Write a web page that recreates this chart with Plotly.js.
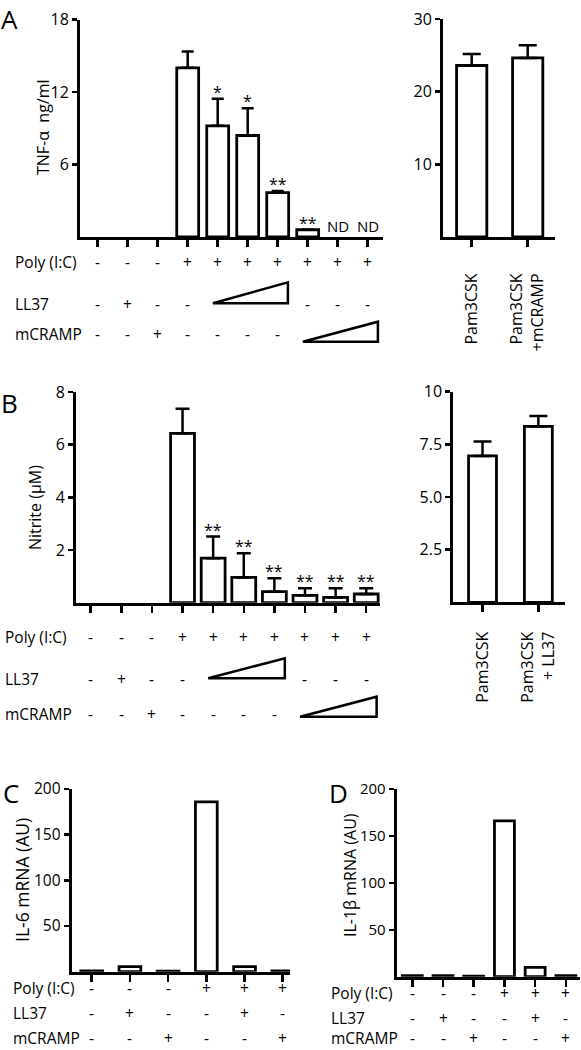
<!DOCTYPE html>
<html><head><meta charset="utf-8">
<script src="https://cdn.plot.ly/plotly-3.0.1.min.js"></script>
<style>html,body{margin:0;padding:0;background:#fff}</style>
</head><body><div id="chart" style="width:581px;height:1050px"></div>
<script>
// ---------- DATA ----------
// null = no bar drawn (untreated / not detected)
const tnfMean = [null, null, null, 14.0, 9.2, 8.4, 3.67, 0.6, null, null];
const tnfErr  = [0, 0, 0, 1.35, 2.25, 2.25, 0.13, 0, 0, 0];
const tnfSig  = ['', '', '', '', '*', '*', '**', '**', 'ND', 'ND'];

const pamTnfLabels = ['Pam3CSK', 'Pam3CSK<br>+mCRAMP'];
const pamTnfMean = [23.6, 24.65];
const pamTnfErr  = [1.6, 1.75];

const nitMean = [null, null, null, 6.43, 1.69, 0.96, 0.42, 0.28, 0.2, 0.33];
const nitErr  = [0, 0, 0, 0.93, 0.82, 0.92, 0.51, 0.27, 0.35, 0.22];
const nitSig  = ['', '', '', '', '**', '**', '**', '**', '**', '**'];

const pamNitLabels = ['Pam3CSK', 'Pam3CSK<br>+ LL37'];
const pamNitMean = [6.95, 8.35];
const pamNitErr  = [0.68, 0.5];

const il6  = [1, 5.5, 0.5, 186, 5.5, 1];
const il1b = [1, 1, 0.5, 166, 10, 1];

// treatment tables ('' = increasing dose ramp)
const polyAB   = ['-', '-', '-', '+', '+', '+', '+', '+', '+', '+'];
const ll37AB   = ['-', '+', '-', '-', '', '', '', '-', '-', '-'];
const mcrampAB = ['-', '-', '+', '-', '-', '-', '-', '', '', ''];
const polyCD   = ['-', '-', '-', '+', '+', '+'];
const ll37CD   = ['-', '+', '-', '-', '+', '-'];
const mcrampCD = ['-', '-', '+', '-', '-', '+'];
const rowNames = ['Poly (I:C)', 'LL37', 'mCRAMP'];

// ---------- HELPERS ----------
const W = 581, H = 1050;
const px = v => v / W, py = v => 1 - v / H;
const FONT = 'Open Sans, sans-serif';
const idx = a => a.map((_, i) => i);

function barTrace(y, err, xa, ya, width, capw) {
  const t = {
    type: 'bar', x: idx(y), y: y, xaxis: xa, yaxis: ya, width: width,
    marker: {color: '#fff', line: {color: '#000', width: 2.8}},
    hoverinfo: 'skip'
  };
  if (err) t.error_y = {type: 'data', symmetric: false, array: err, arrayminus: err.map(() => 0),
                        color: '#000', thickness: 2.5, width: capw};
  return t;
}
function xAx(l, r, r0, r1, n, anchor, ticktext, standoff) {
  const a = {domain: [px(l), px(r)], range: [r0, r1], anchor: anchor,
    tickvals: [...Array(n).keys()], ticks: 'outside', ticklen: 7, tickwidth: 2.5, tickcolor: '#000',
    showline: true, linewidth: 3, linecolor: '#000', showgrid: false, zeroline: false, fixedrange: true,
    showticklabels: false};
  if (ticktext) {
    a.showticklabels = true; a.ticktext = ticktext; a.tickangle = -90;
    a.tickfont = {family: FONT, size: 16, color: '#000'};
    a.ticklabelstandoff = standoff;
  }
  return a;
}
function yAx(top, bottom, range, tickvals, ticktext, anchor, fs, standoff) {
  return {domain: [py(bottom), py(top)], range: range, anchor: anchor,
    tickvals: tickvals, ticktext: ticktext, ticks: 'outside', ticklen: 5, tickwidth: 2.5, tickcolor: '#000',
    showline: true, linewidth: 3, linecolor: '#000', showgrid: false, zeroline: false, fixedrange: true,
    ticklabelstandoff: standoff || 0,
    tickfont: {family: FONT, size: fs, color: '#000'}};
}

const annotations = [];
const shapes = [];
function txt(x, y, text, size, opts) {
  annotations.push(Object.assign({x: x, y: y, xref: 'paper', yref: 'paper', text: text, showarrow: false,
    borderpad: 0, font: {family: FONT, size: size, color: '#000'}, xanchor: 'left', yanchor: 'middle'}, opts || {}));
}
// place a row of text; keep boxes inside the page at the bottom edge
function rowPos(yc, size) {
  const half = size * 0.68;
  if (yc + half > H - 0.5) return {y: py(H - 0.5), yanchor: 'bottom'};
  return {y: py(yc), yanchor: 'middle'};
}
function table(rows, xref, rowY, labelX, size, ramps) {
  rows.forEach((row, r) => {
    const p = rowPos(rowY[r], size);
    txt(px(labelX), p.y, rowNames[r], size, {yanchor: p.yanchor});
    row.forEach((s, i) => {
      if (s !== '') annotations.push({x: i, y: p.y, xref: xref, yref: 'paper', text: s, showarrow: false,
        borderpad: 0, font: {family: FONT, size: size, color: '#000'}, xanchor: 'center', yanchor: p.yanchor});
    });
    const first = row.indexOf(''), last = row.lastIndexOf('');
    if (first >= 0 && ramps) {
      const [yb, yt] = ramps[r];
      const x0 = first - 0.16, x1 = last + 0.34;
      shapes.push({type: 'path', xref: xref, yref: 'paper',
        path: `M ${x0},${py(yb)} L ${x1},${py(yb)} L ${x1},${py(yt)} Z`,
        line: {color: '#000', width: 2.5}, fillcolor: 'rgba(0,0,0,0)'});
    }
  });
}
function sig(labels, mean, err, xref, yref, size, shift) {
  labels.forEach((s, i) => {
    if (!s) return;
    const top = (mean[i] || 0) + err[i];
    annotations.push({x: i, y: top, xref: xref, yref: yref, text: s, showarrow: false, borderpad: 0,
      font: {family: FONT, size: s === 'ND' ? 15 : size, color: '#000'}, xanchor: 'center', yanchor: 'bottom',
      yshift: s === 'ND' ? 0 : shift});
  });
}

// ---------- TRACES ----------
const data = [
  barTrace(tnfMean, tnfErr, 'x', 'y', 0.73, 6),
  barTrace(pamTnfMean, pamTnfErr, 'x2', 'y2', 0.54, 9),
  barTrace(nitMean, nitErr, 'x3', 'y3', 0.78, 7),
  barTrace(pamNitMean, pamNitErr, 'x4', 'y4', 0.5, 9),
  barTrace(il6, null, 'x5', 'y5', 0.57),
  barTrace(il1b, null, 'x6', 'y6', 0.65)
];

// ---------- ANNOTATIONS ----------
txt(px(0), 1, 'A', 26, {yanchor: 'top'});
txt(px(0), py(384), 'B', 26, {yanchor: 'top'});
txt(px(2), py(774), 'C', 26, {yanchor: 'top'});
txt(px(328), py(774), 'D', 26, {yanchor: 'top'});

txt(px(43), py(127), 'TNF-α&nbsp; ng/ml', 16, {xanchor: 'center', textangle: -90});
txt(px(35), py(508), 'Nitrite (μM)', 16, {xanchor: 'center', textangle: -90});
txt(px(22), py(880), 'IL-6 mRNA (AU)', 17.5, {xanchor: 'center', textangle: -90});
txt(px(350), py(875), 'IL-1β mRNA (AU)', 16, {xanchor: 'center', textangle: -90});

table([polyAB, ll37AB, mcrampAB], 'x', [262, 304, 334], 14, 15.5, [null, [303.3, 282.3], [341.7, 321.7]]);
table([polyAB, ll37AB, mcrampAB], 'x3', [637, 678.5, 714], 4, 15.5, [null, [678.3, 658.3], [716.7, 696.7]]);
table([polyCD, ll37CD, mcrampCD], 'x5', [987.5, 1013, 1039], 12, 15.5, null);
table([polyCD, ll37CD, mcrampCD], 'x6', [993, 1017.5, 1042.5], 330, 15.5, null);

sig(tnfSig, tnfMean, tnfErr, 'x', 'y', 16, -5);
sig(nitSig, nitMean, nitErr, 'x3', 'y3', 16, -5);

const layout = {
  width: W, height: H, margin: {l: 0, r: 0, t: 0, b: 0}, showlegend: false,
  paper_bgcolor: '#fff', plot_bgcolor: '#fff', font: {family: FONT, color: '#000'},
  bargap: 0,
  xaxis:  xAx(80, 383, -0.59, 9.51, 10, 'y'),
  yaxis:  yAx(19.5, 237, [0, 18], [6, 12, 18], ['6', '12', '18'], 'x', 16),
  xaxis2: xAx(443, 555, -0.5125, 1.4875, 2, 'y2', pamTnfLabels, 20),
  yaxis2: yAx(19, 237, [0, 30], [10, 20, 30], ['10', '20', '30'], 'x2', 16),
  xaxis3: xAx(76, 380, -0.48, 9.45, 10, 'y3'),
  yaxis3: yAx(392, 602.7, [0, 8], [2, 4, 6, 8], ['2', '4', '6', '8'], 'x3', 16),
  xaxis4: xAx(453.3, 565, -0.523, 1.477, 2, 'y4', pamNitLabels, 13),
  yaxis4: yAx(391.7, 602.3, [0, 10], [2.5, 5, 7.5, 10], ['2.5', '5.0', '7.5', '10'], 'x4', 16),
  xaxis5: xAx(71.7, 290, -0.524, 5.19, 6, 'y5'),
  yaxis5: yAx(789, 971.7, [0, 200], [50, 100, 150, 200], ['50', '100', '150', '200'], 'x5', 15.5),
  xaxis6: xAx(396.7, 580, -0.508, 5.46, 6, 'y6'),
  yaxis6: yAx(789, 976.7, [0, 200], [50, 100, 150, 200], ['50', '100', '150', '200'], 'x6', 15),
  annotations: annotations, shapes: shapes
};

Plotly.newPlot('chart', data, layout, {staticPlot: true, displayModeBar: false});
</script></body></html>
